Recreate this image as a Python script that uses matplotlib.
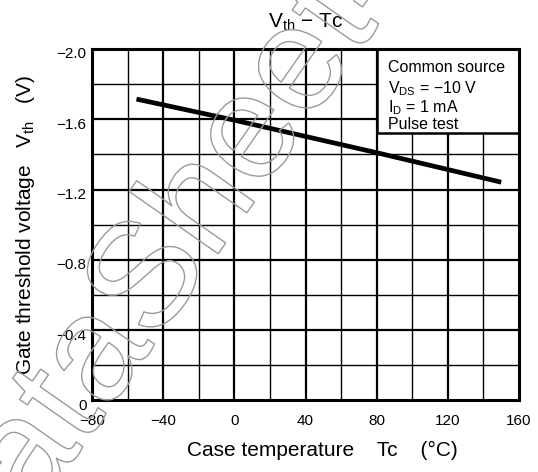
import matplotlib
matplotlib.use("Agg")
import matplotlib.pyplot as plt
from matplotlib.patches import Rectangle, PathPatch
from matplotlib.textpath import TextPath
from matplotlib.font_manager import FontProperties
from matplotlib.transforms import ScaledTranslation, Affine2D

plt.rcParams["font.family"] = "Liberation Sans"
plt.rcParams["mathtext.fontset"] = "custom"
plt.rcParams["mathtext.rm"] = "Liberation Sans"
plt.rcParams["mathtext.it"] = "Liberation Sans"

# Vth vs case temperature
temp_c = [-55, 0, 80, 150]
vth_v = [-1.715, -1.595, -1.41, -1.242]

x_ticks = [-80, -40, 0, 40, 80, 120, 160]
y_ticks = [0, -0.4, -0.8, -1.2, -1.6, -2.0]
y_tick_labels = ["0", "\u22120.4", "\u22120.8", "\u22121.2", "\u22121.6", "\u22122.0"]
x_tick_labels = ["\u221280", "\u221240", "0", "40", "80", "120", "160"]

cond_lines = ["Common source",
              "V$_{\\mathrm{DS}}$ = \u221210 V",
              "I$_{\\mathrm{D}}$ = 1 mA",
              "Pulse test"]

fig = plt.figure(figsize=(5.38, 4.72), dpi=100)
ax = fig.add_axes([0.171, 0.1515, 0.7937, 0.7447])

# faint outlined watermark running diagonally across the sheet
fp = FontProperties(family="Liberation Sans")
tp = TextPath((0, 0), "www.DataSheet4U.com", size=150, prop=fp)
ext = tp.get_extents()
tr = (Affine2D().translate(-(ext.x0 + ext.x1) / 2, -(ext.y0 + ext.y1) / 2)
      .rotate_deg(55).translate(175, 250))
wm = PathPatch(tr.transform_path(tp), facecolor="none", edgecolor="#9a9a9a",
               lw=1.0, transform=None, zorder=0.5)
fig.patches.append(wm)

# grid: thin every 20 degC / 0.2 V, heavier on labelled values
for x in range(-60, 160, 20):
    ax.axvline(x, color="black", lw=1.6 if x % 40 == 0 else 1.0, zorder=1)
for i in range(1, 10):
    y = -0.2 * i
    ax.axhline(y, color="black", lw=1.6 if i % 2 == 0 else 1.0, zorder=1)

ax.plot(temp_c, vth_v, color="black", lw=3.4, solid_capstyle="butt", zorder=3)

ax.set_xlim(-80, 160)
ax.set_ylim(0, -2.0)
ax.set_xticks(x_ticks)
ax.set_xticklabels(x_tick_labels)
ax.set_yticks(y_ticks)
ax.set_yticklabels(y_tick_labels)
ax.tick_params(length=0, labelsize=11, pad=4)
ax.tick_params(axis="x", pad=10)
for lab in ax.get_yticklabels():
    lab.set_transform(lab.get_transform() + ScaledTranslation(0, -0.04, fig.dpi_scale_trans))
for s in ax.spines.values():
    s.set_linewidth(2.2)
    s.set_zorder(5)

# conditions box in the upper right corner
ax.add_patch(Rectangle((80, -2.0), 80, 0.48, facecolor="white", edgecolor="black",
                       lw=1.8, zorder=4))
for i, line in enumerate(cond_lines):
    ax.text(0.693, 0.968 - i * 0.0535, line, transform=ax.transAxes, fontsize=11.5,
            va="top", ha="left", zorder=6)

ax.set_title("V$_{\\mathrm{th}}$ \u2212 Tc", fontsize=15, pad=15)
ax.set_xlabel("Case temperature    Tc    (\u00b0C)", fontsize=15)
ax.xaxis.set_label_coords(0.539, -0.115)
ax.set_ylabel("Gate threshold voltage   V$_{\\mathrm{th}}$   (V)", fontsize=15)
ax.yaxis.set_label_coords(-0.128, 0.5)

fig.savefig("out.png", dpi=100)
